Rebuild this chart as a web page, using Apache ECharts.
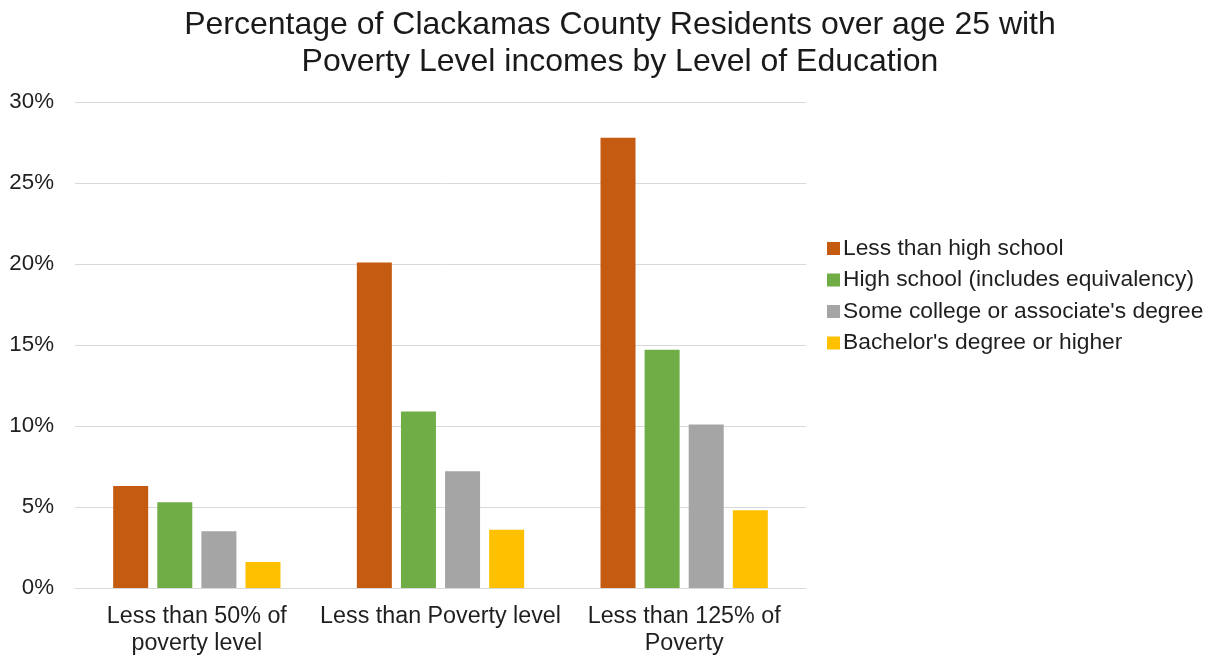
<!DOCTYPE html>
<html>
<head>
<meta charset="utf-8">
<script src="https://cdn.jsdelivr.net/npm/echarts@6/dist/echarts.min.js"></script>
<style>
  html, body { margin: 0; padding: 0; background: #ffffff; }
  #chart { width: 1215px; height: 657px; }
</style>
</head>
<body>
<div id="chart"></div>
<script>
// Poverty thresholds (x-axis categories)
const categories = [
  'Less than 50% of\npoverty level',
  'Less than Poverty level',
  'Less than 125% of\nPoverty'
];

// Education levels (series names)
const seriesNames = [
  'Less than high school',
  'High school (includes equivalency)',
  "Some college or associate's degree",
  "Bachelor's degree or higher"
];

// Percent of residents over 25 in each poverty band, by education level
const lessThanHighSchool = [6.3, 20.1, 27.8];
const highSchool = [5.3, 10.9, 14.7];
const someCollege = [3.5, 7.2, 10.1];
const bachelors = [1.6, 3.6, 4.8];

// Y-axis range and ticks (percent)
const yMin = 0;
const yMax = 30;
const yStep = 5;

const colors = ['#C55A11', '#70AD47', '#A5A5A5', '#FFC000'];
const seriesValues = [lessThanHighSchool, highSchool, someCollege, bachelors];
const FONT = '"Liberation Sans", Arial, Helvetica, sans-serif';

const chart = echarts.init(document.getElementById('chart'), null, { renderer: 'canvas' });

chart.setOption({
  backgroundColor: '#ffffff',
  animation: false,
  color: colors,
  title: {
    text: 'Percentage of Clackamas County Residents over age 25 with\nPoverty Level incomes by Level of Education',
    left: 620,
    top: 7,
    padding: 0,
    textAlign: 'center',
    textStyle: {
      fontFamily: FONT,
      fontSize: 32,
      fontWeight: 'normal',
      lineHeight: 37,
      color: '#1a1a1a'
    }
  },
  legend: {
    orient: 'vertical',
    left: 827,
    top: 237,
    padding: 0,
    itemWidth: 13,
    itemHeight: 13,
    itemGap: 8.5,
    icon: 'rect',
    textStyle: {
      fontFamily: FONT,
      fontSize: 22.8,
      color: '#1f1f1f',
      padding: [0, 0, 0, -2]
    },
    data: seriesNames
  },
  grid: {
    left: 75,
    right: 409,
    top: 102,
    bottom: 68,
    containLabel: false
  },
  xAxis: {
    type: 'category',
    data: categories,
    axisLine: { show: true, lineStyle: { color: '#d9d9d9', width: 1 } },
    axisTick: { show: false },
    axisLabel: {
      margin: 15,
      interval: 0,
      fontFamily: FONT,
      fontSize: 23.3,
      lineHeight: 27,
      color: '#1f1f1f',
      align: 'center'
    }
  },
  yAxis: {
    type: 'value',
    min: yMin,
    max: yMax,
    interval: yStep,
    axisLine: { show: false },
    axisTick: { show: false },
    splitLine: { show: true, lineStyle: { color: '#d9d9d9', width: 1 } },
    axisLabel: {
      formatter: '{value}%',
      margin: 21,
      fontFamily: FONT,
      fontSize: 22.3,
      color: '#1f1f1f'
    }
  },
  series: seriesNames.map((name, i) => ({
    name: name,
    type: 'bar',
    data: seriesValues[i],
    barWidth: 35,
    barGap: '26%',
    itemStyle: { color: colors[i] }
  }))
});
</script>
</body>
</html>
